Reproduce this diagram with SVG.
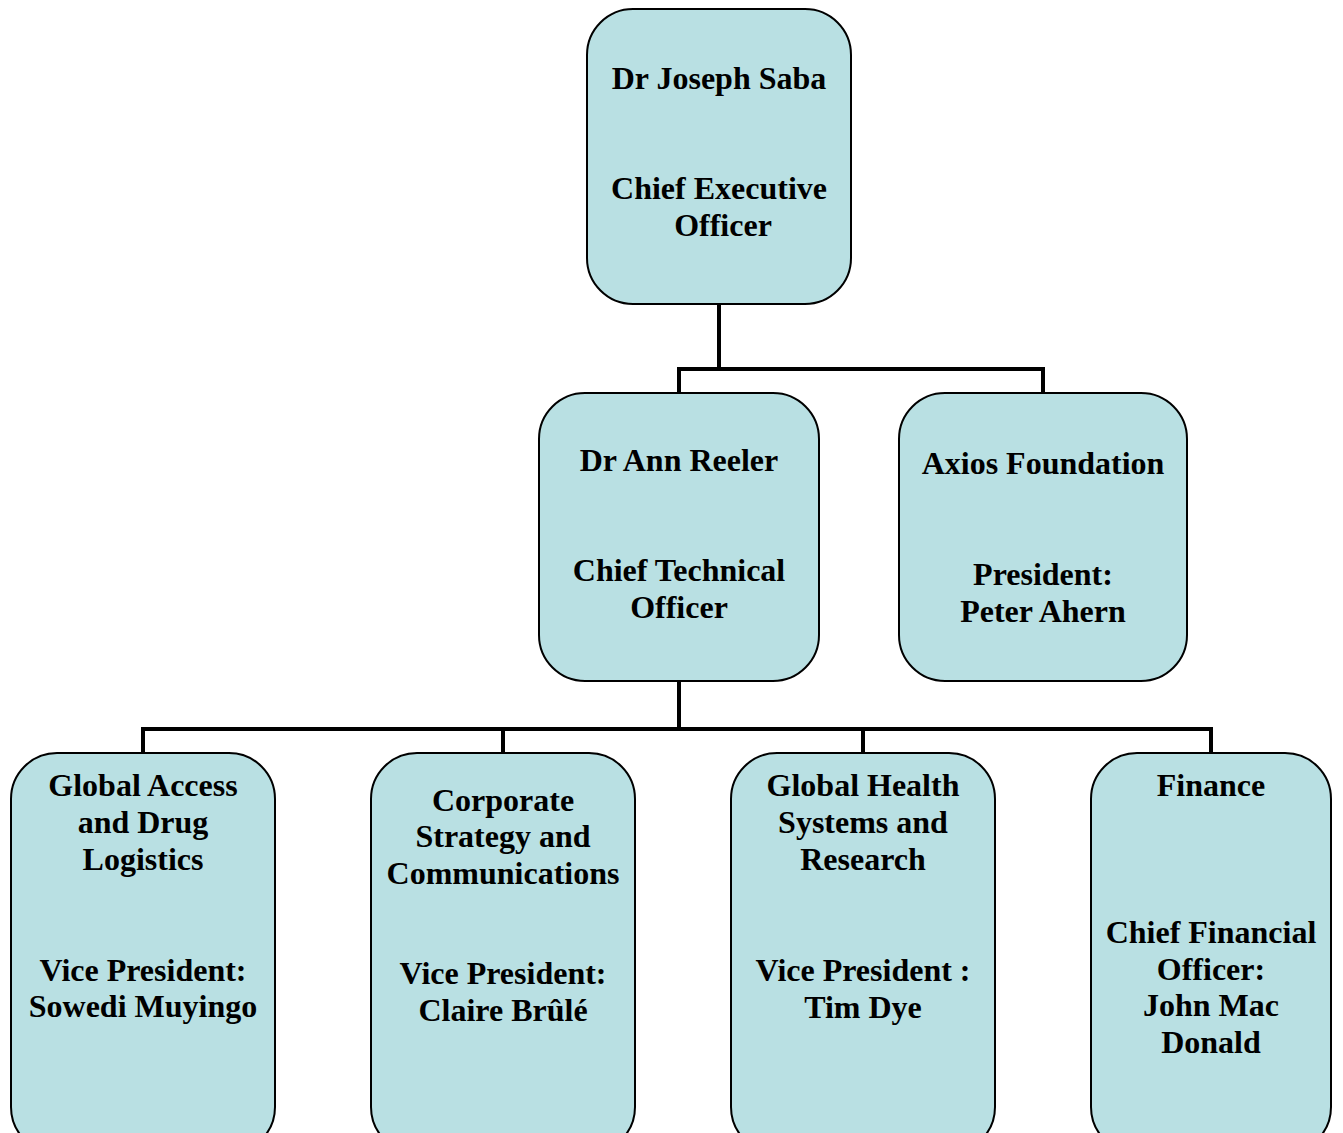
<svg xmlns="http://www.w3.org/2000/svg" width="1343" height="1133" viewBox="0 0 1343 1133">
<style>
.box{fill:#B9E0E3;stroke:#000;stroke-width:2}
.t{font-family:"Liberation Serif","Times New Roman",serif;font-weight:bold;font-size:32px;fill:#000;text-anchor:middle}
.c{fill:none;stroke:#000;stroke-width:4}
</style>
<rect width="1343" height="1133" fill="#fff"/>
<g id="connectors">
<polyline class="c" points="719,304 719,369"/>
<polyline class="c" points="679,393 679,369 1043,369 1043,393"/>
<polyline class="c" points="679,681 679,729"/>
<polyline class="c" points="143,753 143,729 1211,729 1211,753"/>
<line class="c" x1="503" y1="729" x2="503" y2="753"/>
<line class="c" x1="863" y1="729" x2="863" y2="753"/>
</g>
<g id="ceo">
<rect class="box" x="587" y="9" width="264" height="295" rx="46"/>
<text class="t" x="719" y="89">Dr Joseph Saba</text>
<text class="t" x="719" y="199">Chief Executive</text>
<text class="t" x="723" y="236">Officer</text>
</g>
<g id="cto">
<rect class="box" x="539" y="393" width="280" height="288" rx="46"/>
<text class="t" x="679" y="471">Dr Ann Reeler</text>
<text class="t" x="679" y="581">Chief Technical</text>
<text class="t" x="679" y="618">Officer</text>
</g>
<g id="axios">
<rect class="box" x="899" y="393" width="288" height="288" rx="46"/>
<text class="t" x="1043" y="474">Axios Foundation</text>
<text class="t" x="1043" y="585">President:</text>
<text class="t" x="1043" y="622">Peter Ahern</text>
</g>
<g id="global-access">
<rect class="box" x="11" y="753" width="264" height="400" rx="46"/>
<text class="t" x="143" y="796">Global Access</text>
<text class="t" x="143" y="833">and Drug</text>
<text class="t" x="143" y="870">Logistics</text>
<text class="t" x="143" y="981">Vice President:</text>
<text class="t" x="143" y="1017">Sowedi Muyingo</text>
</g>
<g id="corporate">
<rect class="box" x="371" y="753" width="264" height="400" rx="46"/>
<text class="t" x="503" y="811">Corporate</text>
<text class="t" x="503" y="847">Strategy and</text>
<text class="t" x="503" y="884">Communications</text>
<text class="t" x="503" y="984">Vice President:</text>
<text class="t" x="503" y="1021">Claire Brûlé</text>
</g>
<g id="global-health">
<rect class="box" x="731" y="753" width="264" height="400" rx="46"/>
<text class="t" x="863" y="796">Global Health</text>
<text class="t" x="863" y="833">Systems and</text>
<text class="t" x="863" y="870">Research</text>
<text class="t" x="863" y="981">Vice President :</text>
<text class="t" x="863" y="1018">Tim Dye</text>
</g>
<g id="finance">
<rect class="box" x="1091" y="753" width="240" height="400" rx="46"/>
<text class="t" x="1211" y="796">Finance</text>
<text class="t" x="1211" y="943">Chief Financial</text>
<text class="t" x="1211" y="980">Officer:</text>
<text class="t" x="1211" y="1016">John Mac</text>
<text class="t" x="1211" y="1053">Donald</text>
</g>
</svg>
